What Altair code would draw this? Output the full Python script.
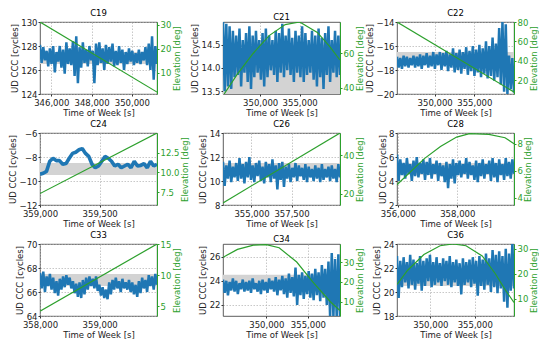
import altair as alt
import numpy as np
import pandas as pd

BLUE = "#1f77b4"
GREEN = "#2ca02c"
GRAY = "#d3d3d3"
W, H = 117, 72

sat_names = ["C19", "C21", "C22", "C24", "C26", "C28", "C33", "C34", "C36"]

# x-axis limits (Time of Week [s]) and tick values
x_lim = {
    "C19": [345440, 351250], "C21": [345300, 360100], "C22": [345250, 360000],
    "C24": [359000, 359980], "C26": [353220, 360530], "C28": [355970, 359910],
    "C33": [358000, 359960], "C34": [344800, 358850], "C36": [346240, 359420],
}
x_ticks = {
    "C19": [346000, 348000, 350000], "C21": [350000, 355000], "C22": [350000, 355000],
    "C24": [359000, 359500], "C26": [355000, 357500], "C28": [356000, 358000],
    "C33": [358000, 359000], "C34": [350000, 355000], "C36": [350000, 355000],
}
# left axis (UD CCC [cycles])
ud_lim = {
    "C19": [124, 130], "C21": [13.44, 14.99], "C22": [-20, -14], "C24": [-12, -6],
    "C26": [8, 14], "C28": [2, 8], "C33": [64, 70], "C34": [21.08, 27.05], "C36": [18, 24],
}
ud_ticks = {
    "C19": [124, 126, 128, 130], "C21": [13.5, 14.0, 14.5], "C22": [-20, -18, -16, -14],
    "C24": [-12, -10, -8, -6], "C26": [8, 10, 12, 14], "C28": [2, 4, 6, 8],
    "C33": [64, 66, 68, 70], "C34": [22, 24, 26], "C36": [18, 20, 22, 24],
}
ud_band = {
    "C19": [126.5, 127.5], "C21": [13.4, 14.5], "C22": [-17.5, -16.5], "C24": [-9.5, -8.5],
    "C26": [10.5, 11.5], "C28": [4.5, 5.5], "C33": [66.5, 67.5], "C34": [23.5, 24.5],
    "C36": [20.5, 21.5],
}
# right axis (Elevation [deg])
el_lim = {
    "C19": [1.2, 31.2], "C21": [36.2, 78.5], "C22": [5.7, 80], "C24": [5.84, 15.05],
    "C26": [14.3, 51.5], "C28": [3.46, 8.8], "C33": [3.46, 15.0], "C34": [2.8, 39.1],
    "C36": [3.0, 31.8],
}
el_ticks = {
    "C19": [10, 20, 30], "C21": [40, 60], "C22": [20, 40, 60, 80], "C24": [7.5, 10.0, 12.5],
    "C26": [20, 40], "C28": [4, 6, 8], "C33": [5, 10, 15], "C34": [10, 20, 30],
    "C36": [10, 20, 30],
}
el_time = {
    "C19": [345440, 351250],
    "C21": [345447, 347073, 349106, 351138, 353170, 354999, 357235, 358861, 360081],
    "C22": [345250, 360000],
    "C24": [359000, 359980],
    "C26": [353220, 360530],
    "C28": [355967, 356891, 357434, 357978, 358413, 359065, 359608, 359913],
    "C33": [358000, 359960],
    "C34": [344808, 346539, 348462, 350000, 351539, 353654, 355577, 357692, 358846],
    "C36": [346240, 347445, 349270, 351095, 352555, 354015, 355840, 357300, 358395, 359417],
}
el_deg = {
    "C19": [31.2, 2.0],
    "C21": [36.2, 47.6, 60.0, 70.5, 77.0, 78.5, 72.4, 63.8, 56.2],
    "C22": [80.0, 7.7],
    "C24": [7.3, 15.05],
    "C26": [15.4, 51.5],
    "C28": [4.96, 6.9, 7.8, 8.5, 8.75, 8.7, 8.45, 8.0],
    "C33": [4.23, 15.0],
    "C34": [32.4, 36.4, 38.5, 38.8, 37.2, 30.0, 20.0, 10.0, 5.5],
    "C36": [15.6, 21.3, 27.6, 31.1, 31.8, 31.1, 27.0, 20.0, 13.7, 8.4],
}

# UD CCC series [cycles]
ud_C19 = [128.1, 126.6, 127.9, 126.8, 127.6, 126.3, 127.8, 126.5, 128.0, 125.8, 127.5, 126.7,
          128.0, 126.2, 127.7, 125.7, 128.3, 126.5, 127.8, 126.4, 128.4, 125.5, 128.8, 124.9,
          127.9, 126.2, 128.3, 126.6, 127.7, 126.3, 128.0, 126.8, 127.6, 124.9, 128.2, 126.4,
          128.3, 126.6, 127.8, 126.0, 128.1, 126.5, 127.9, 126.7, 128.2, 126.3, 127.6, 126.4,
          128.0, 126.6, 127.7, 126.0, 127.5, 126.5, 127.8, 126.7, 127.6, 126.4, 127.4, 126.6,
          127.7, 126.5, 127.5, 126.8, 127.9, 126.4, 128.2, 126.0, 128.8, 125.2, 128.0, 126.5]
ud_C21 = [15.1, 13.5, 14.95, 13.6, 14.9, 13.55, 14.8, 13.8, 14.7, 13.85, 14.85, 13.6,
          14.6, 13.9, 14.75, 13.7, 14.9, 13.55, 14.7, 13.8, 14.8, 13.9, 14.6, 13.75,
          14.75, 13.6, 14.85, 13.8, 14.7, 13.95, 14.6, 13.85, 14.8, 13.7, 14.75, 13.9,
          14.95, 13.8, 14.7, 13.95, 14.85, 13.85, 14.65, 13.7, 14.8, 13.9, 14.7, 13.8,
          14.9, 13.7, 14.75, 13.85, 14.6, 13.9, 14.8, 13.75, 14.7, 13.6, 14.85, 13.8,
          14.65, 13.55, 14.75, 13.85, 14.9, 13.7, 14.6, 13.9, 14.8, 13.8, 14.7, 13.85]
ud_C22 = [-16.9, -17.8, -17.0, -17.9, -16.8, -17.7, -16.9, -17.8, -17.0, -17.6, -16.8, -17.8,
          -16.9, -17.7, -16.7, -17.9, -16.8, -17.6, -16.6, -17.8, -16.8, -17.7, -16.5, -17.9,
          -16.7, -17.6, -16.5, -18.0, -16.6, -17.7, -16.4, -18.1, -16.7, -17.8, -16.2, -18.2,
          -16.6, -18.0, -16.3, -18.3, -16.5, -17.9, -16.1, -18.4, -16.4, -18.1, -16.0, -18.5,
          -16.3, -18.2, -15.9, -18.6, -16.2, -18.3, -15.6, -18.7, -16.0, -18.5, -15.3, -18.9,
          -15.8, -18.6, -14.5, -19.2, -14.0, -19.8, -14.2, -20.0, -16.8, -19.6, -17.0, -19.9]
ud_C24 = [-9.43, -9.35, -9.2, -8.35, -8.1, -8.3, -8.3, -8.6, -8.55, -8.1, -7.7, -7.6,
          -7.4, -7.3, -7.7, -7.95, -8.6, -8.9, -8.75, -8.35, -7.95, -8.1, -8.35, -8.75,
          -8.6, -8.9, -8.75, -8.6, -8.9, -8.35, -8.75, -8.7, -8.55, -8.9, -8.35, -8.75, -8.6]
ud_C26 = [11.6, 9.6, 11.3, 10.2, 11.7, 9.9, 11.2, 10.3, 11.5, 10.0, 11.9, 10.2,
          11.4, 9.8, 11.6, 10.3, 12.0, 10.1, 11.3, 9.9, 11.5, 10.4, 11.7, 10.0,
          11.2, 9.8, 11.6, 10.3, 11.4, 9.9, 11.8, 10.2, 11.3, 9.3, 11.5, 10.1,
          11.6, 9.5, 11.2, 10.2, 11.4, 9.9, 11.1, 10.3, 11.5, 10.0, 11.3, 10.4,
          11.1, 10.1, 11.4, 9.9, 11.2, 10.3, 11.0, 10.0, 11.3, 10.2, 11.1, 9.9,
          11.4, 10.1, 11.0, 10.3, 11.2, 10.0, 11.3, 10.2, 11.0, 9.9, 11.4, 10.3]
ud_C28 = [6.2, 4.0, 5.8, 4.5, 5.5, 4.2, 5.9, 4.6, 5.4, 4.0, 5.7, 4.4,
          6.0, 4.3, 5.5, 4.6, 5.8, 4.1, 5.6, 4.5, 5.9, 4.2, 5.4, 4.6,
          5.7, 4.0, 5.5, 4.4, 5.3, 3.9, 5.6, 3.4, 5.4, 4.2, 5.8, 3.8,
          5.5, 4.5, 5.7, 4.3, 5.4, 4.6, 5.9, 4.2, 5.6, 4.5, 5.3, 4.1,
          5.7, 3.9, 5.5, 4.4, 5.8, 4.2, 5.4, 4.6, 5.7, 4.0, 5.9, 4.3,
          5.5, 3.9, 5.8, 4.5, 5.4, 4.1, 5.9, 4.4, 5.6, 4.2, 5.8, 4.6]
ud_C33 = [67.6, 66.3, 67.7, 66.0, 67.3, 66.5, 67.5, 66.2, 67.2, 65.9, 66.9, 65.7,
          67.1, 66.2, 67.3, 66.4, 67.4, 66.6, 67.2, 66.3, 66.9, 65.9, 66.7, 65.6,
          66.8, 65.5, 67.0, 65.8, 67.2, 66.2, 67.3, 66.5, 67.1, 66.3, 67.3, 66.1,
          66.6, 65.7, 66.4, 65.5, 66.2, 65.4, 66.8, 65.8, 67.0, 66.2, 67.2, 66.3,
          66.9, 66.0, 67.1, 66.3, 66.8, 66.2, 67.0, 66.0, 66.8, 65.8, 66.6, 65.6,
          66.9, 65.9, 67.2, 66.3, 67.0, 66.0, 67.4, 66.5, 67.3, 66.2, 67.5, 66.6]
ud_C34 = [24.1, 23.0, 24.0, 22.8, 23.9, 23.2, 24.2, 23.1, 24.0, 22.9, 23.8, 23.3,
          24.1, 23.1, 23.9, 23.2, 24.0, 23.0, 24.2, 23.3, 23.8, 23.1, 24.0, 22.9,
          24.1, 23.2, 23.9, 23.0, 24.2, 23.3, 24.0, 23.1, 24.3, 22.8, 24.1, 23.2,
          24.4, 22.9, 24.2, 22.6, 24.6, 23.0, 24.3, 22.7, 25.1, 22.0, 24.5, 22.8,
          24.7, 22.5, 24.4, 22.9, 24.8, 22.6, 24.6, 22.4, 25.0, 22.8, 24.7, 22.3,
          25.3, 22.6, 25.0, 22.0, 25.6, 21.0, 26.3, 21.0, 25.8, 21.0, 26.2, 21.0]
ud_C36 = [23.0, 19.5, 22.6, 20.4, 22.9, 20.8, 22.5, 20.3, 23.1, 20.6, 22.7, 20.2,
          22.4, 20.7, 23.0, 20.1, 22.6, 20.5, 22.8, 20.9, 23.1, 20.4, 22.5, 20.6,
          22.9, 20.8, 22.4, 20.5, 22.8, 20.9, 22.6, 20.6, 23.0, 20.4, 22.5, 20.8,
          22.7, 20.5, 22.4, 19.8, 22.8, 20.6, 22.5, 20.8, 22.7, 20.4, 22.9, 20.7,
          22.6, 19.7, 23.0, 20.5, 22.7, 20.2, 23.2, 20.6, 22.8, 20.0, 23.5, 20.4,
          23.1, 19.9, 23.4, 20.3, 23.0, 19.2, 23.6, 18.7, 23.2, 20.1, 24.0, 20.3]

ud_series = {"C19": ud_C19, "C21": ud_C21, "C22": ud_C22, "C24": ud_C24, "C26": ud_C26,
             "C28": ud_C28, "C33": ud_C33, "C34": ud_C34, "C36": ud_C36}


def panel(name):
    xl = x_lim[name]
    vals = ud_series[name]
    df_ud = pd.DataFrame({"t": np.linspace(xl[0], xl[1], len(vals)), "v": vals})
    df_band = pd.DataFrame({"x0": [xl[0]], "x1": [xl[1]],
                            "y0": [ud_band[name][0]], "y1": [ud_band[name][1]]})
    df_el = pd.DataFrame({"t": el_time[name], "e": el_deg[name]})

    xs = alt.Scale(domain=xl, nice=False, zero=False)
    xax = alt.Axis(values=x_ticks[name], format=",d", title="Time of Week [s]",
                   grid=True, labelFlush=False, labelOverlap=False)
    ys = alt.Scale(domain=ud_lim[name], nice=False, zero=False)
    yfmt = ".1f" if name == "C21" else "d"
    yax = alt.Axis(values=ud_ticks[name], format=yfmt, title="UD CCC [cycles]",
                   grid=True, labelOverlap=False)
    efmt = ".1f" if name == "C24" else "d"
    eax = alt.Axis(values=el_ticks[name], format=efmt, title="Elevation [deg]",
                   orient="right", grid=False, labelOverlap=False,
                   labelColor=GREEN, tickColor=GREEN, titleColor=GREEN,
                   domain=True, domainColor=GREEN, domainWidth=1,
                   titleAngle=270, titleBaseline="top")

    band = alt.Chart(df_band).mark_rect(color=GRAY, clip=True).encode(
        x=alt.X("x0:Q", scale=xs, axis=xax), x2="x1:Q",
        y=alt.Y("y0:Q", scale=ys, axis=yax), y2="y1:Q")
    sw = 3.6 if name == "C24" else 2.5
    blue = alt.Chart(df_ud).mark_line(color=BLUE, strokeWidth=sw, clip=True,
                                      strokeJoin="bevel").encode(
        x=alt.X("t:Q", scale=xs, axis=xax),
        y=alt.Y("v:Q", scale=ys, axis=yax))
    green = alt.Chart(df_el).mark_line(color=GREEN, strokeWidth=1.2, clip=True).encode(
        x=alt.X("t:Q", scale=xs, axis=xax),
        y=alt.Y("e:Q", scale=alt.Scale(domain=el_lim[name], nice=False, zero=False), axis=eax))
    return alt.layer(alt.layer(band, blue), green).resolve_scale(y="independent").properties(
        width=W, height=H,
        title=alt.TitleParams(text=name, fontSize=8.5, fontWeight="normal", offset=1))


chart = alt.concat(*[panel(n) for n in sat_names], columns=3,
                   spacing={"row": 2, "column": 0}, align="each").properties(
    padding=0
).configure(font="DejaVu Sans").configure_view(
    stroke="#333333", strokeWidth=0.8
).configure_axis(
    labelFontSize=8.5, titleFontSize=8.5, titleFontWeight="normal",
    gridDash=[1.5, 1.5], gridColor="#b0b0b0", gridWidth=0.7,
    domain=False, tickColor="#333333", labelColor="#222222", titleColor="#222222"
).configure_axisX(
    tickSize=2, labelPadding=2.5, titlePadding=1
).configure_axisY(
    tickSize=2, labelPadding=1, titlePadding=1.5
)

chart.save("out.html", embed_options={"renderer": "svg", "actions": False})
